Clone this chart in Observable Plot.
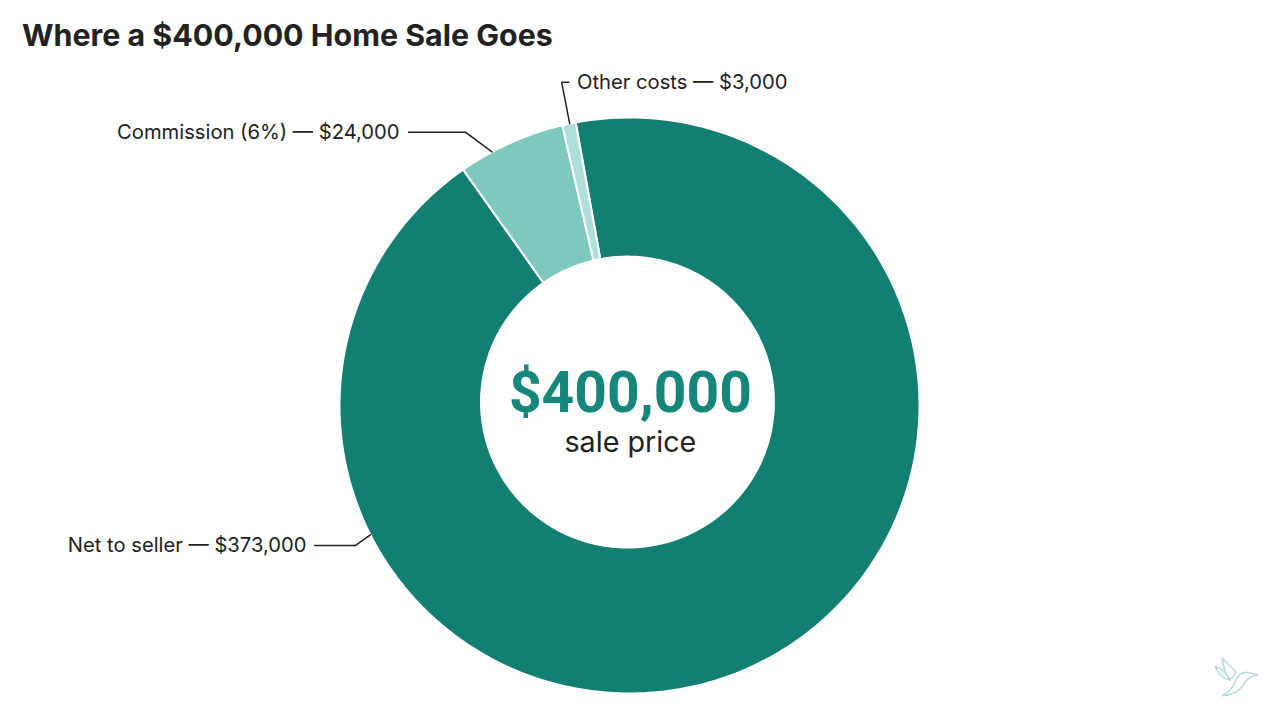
<!DOCTYPE html>
<html>
<head>
<meta charset="utf-8">
<script src="https://cdn.jsdelivr.net/npm/d3@7"></script>
<script src="https://cdn.jsdelivr.net/npm/@observablehq/plot@0.6"></script>
<style>
html,body{margin:0;padding:0;background:#fff;width:1280px;height:720px;overflow:hidden;font-family:Inter,sans-serif}
#title{height:60px;box-sizing:border-box;padding:17px 0 0 22px;font-size:30.4px;line-height:36px;font-weight:700;color:#222;white-space:nowrap}
#chart svg{display:block}
#bird{position:absolute;left:1190px;top:640px;width:80px;height:70px}
</style>
</head>
<body>
<div id="title">Where a $400,000 Home Sale Goes</div>
<div id="chart"></div>
<svg id="bird" viewBox="0 0 240 210" fill="none" stroke="#b4dcd7" stroke-width="4.5" stroke-linejoin="round">
  <path d="M97 55L137 95Q132 110 120 120Q100 92 97 55Z"/>
  <path d="M76 80Q104 86 120 120Q90 115 76 80Z"/>
  <path d="M203 104L172 97Q146 97 136 125Q126 150 97 167Q140 165 160 135Q172 110 203 104Z"/>
</svg>
<script>
const categories = ["Net to seller", "Commission (6%)", "Other costs"];
const amounts = [373000, 24000, 3000];
const colors = ["#137e72", "#7fc8bd", "#aee0d9"];
const calloutTexts = ["Net to seller — $373,000", "Commission (6%) — $24,000", "Other costs — $3,000"];
const centerValue = "$400,000";
const centerCaption = "sale price";

// Donut geometry, in units of the outer radius
const startDeg = -10.7;
const innerRadius = 0.505;
const innerShift = [-0.007, 0.012];
const polar = (deg, r, shift = [0, 0]) => {
  const a = deg * Math.PI / 180;
  return {x: shift[0] + r * Math.sin(a), y: shift[1] + r * Math.cos(a)};
};

// Slice outlines derived from the amounts
const total = d3.sum(amounts);
let cursor = startDeg;
const slices = categories.map((name, i) => {
  const a0 = cursor, a1 = cursor + amounts[i] / total * 360;
  cursor = a1;
  return {name, a0, a1};
});
const outline = slices.flatMap(({name, a0, a1}) => {
  const n = Math.max(2, Math.ceil(a1 - a0));
  const angles = d3.range(n + 1).map(k => a0 + (a1 - a0) * k / n);
  return [
    ...angles.map(a => ({name, ...polar(a, 1)})),
    ...angles.reverse().map(a => ({name, ...polar(a, innerRadius, innerShift)}))
  ];
});

// Leader lines: tip on the rim, an elbow, then a horizontal run to the label
const calloutTips = [243.3, -28.3, -11.9];
const calloutElbows = [[-0.945, -0.486], [-0.566, 0.949], [-0.234, 1.122]];
const calloutEnds = [-1.086, -0.762, -0.209];
const calloutGaps = [-0.028, -0.031, 0.028];
const leaders = categories.flatMap((name, i) => [
  {name, ...polar(calloutTips[i], 1)},
  {name, x: calloutElbows[i][0], y: calloutElbows[i][1]},
  {name, x: calloutEnds[i], y: calloutElbows[i][1]}
]);
const labels = categories.map((name, i) => ({
  text: calloutTexts[i],
  x: calloutEnds[i] + calloutGaps[i],
  y: calloutElbows[i][1],
  anchor: calloutGaps[i] < 0 ? "end" : "start"
}));

const labelMark = d => Plot.text(d, {
  x: "x", y: "y", text: "text", textAnchor: d[0].anchor,
  fontSize: 20.2, fill: "#222", lineAnchor: "middle"
});

const chart = Plot.plot({
  width: 1280,
  height: 660,
  margin: 0,
  style: {fontFamily: "Inter, sans-serif", background: "transparent"},
  x: {domain: [-1, 1], range: [339, 919], axis: null},
  y: {domain: [1, -1], range: [57, 633], axis: null},
  color: {domain: categories, range: colors},
  marks: [
    Plot.line(outline, {x: "x", y: "y", z: "name", fill: "name", stroke: "#fff", strokeWidth: 2, curve: "linear-closed"}),
    Plot.line(leaders, {x: "x", y: "y", z: "name", stroke: "#222", strokeWidth: 1.5}),
    labelMark(labels.filter(d => d.anchor === "end")),
    labelMark(labels.filter(d => d.anchor === "start")),
    Plot.text([centerValue], {x: [0.003], y: [-0.023], text: d => d, fontSize: 57, fontFamily: "Roboto", fontWeight: 700, fill: "#14867a", lineAnchor: "bottom"}),
    Plot.text([centerCaption], {x: [0.003], y: [-0.162], text: d => d, fontSize: 28.7, fill: "#222", lineAnchor: "bottom"})
  ]
});
document.getElementById("chart").appendChild(chart);
</script>
</body>
</html>
